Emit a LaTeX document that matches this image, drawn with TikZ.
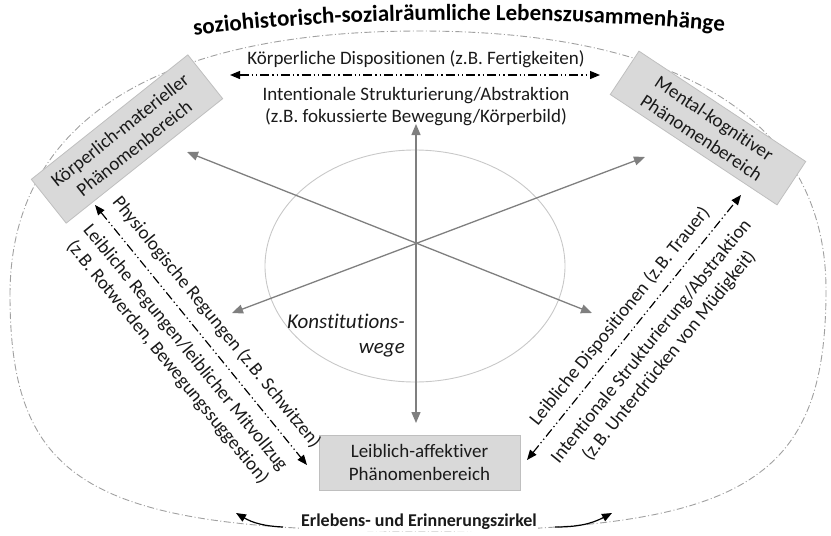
\documentclass[tikz,border=0pt]{standalone}
\usepackage{fontspec}
\setmainfont{Carlito}[Ligatures=NoCommon]
\usetikzlibrary{arrows.meta,decorations.text}
\definecolor{boxfill}{HTML}{D9D9D9}
\definecolor{boxline}{HTML}{BFBFBF}
\definecolor{raygray}{HTML}{7F7F7F}
\definecolor{ellgray}{HTML}{C8C8C8}
\definecolor{boundgray}{HTML}{A0A0A0}
\definecolor{txtcol}{HTML}{1A1A1A}
\begin{document}
\begin{tikzpicture}[x=1pt,y=-1pt,
  txt/.style={font=\fontsize{19}{23}\selectfont, text=txtcol, inner sep=0pt, align=center},
  btxt/.style={font=\bfseries\fontsize{18}{22}\selectfont, text=txtcol, inner sep=1pt},
  itxt/.style={font=\itshape\fontsize{21}{25}\selectfont, text=txtcol, inner sep=0pt, align=right},
  box/.style={draw=boxline, line width=0.8pt, fill=boxfill, minimum width=200pt, minimum height=56pt, inner sep=2pt, align=center, text=txtcol, font=\fontsize{19}{23}\selectfont},
  ray/.style={draw=raygray, line width=1.3pt, {Triangle[length=11pt,width=9pt]}-{Triangle[length=11pt,width=9pt]}},
  dda/.style={draw=black, line width=1.2pt, dash pattern=on 9pt off 3pt on 1.3pt off 3pt on 1.3pt off 3pt, {Triangle[length=10pt,width=8pt]}-{Triangle[length=10pt,width=8pt]}},
  curv/.style={draw=black, line width=1.2pt, -{Triangle[length=10pt,width=8pt]}},
  bound/.style={draw=boundgray, line width=0.9pt, dash pattern=on 7pt off 2.5pt on 1pt off 2.5pt},
  inner/.style={draw=ellgray, line width=0.9pt}
]
\useasboundingbox (0,0) rectangle (831,536);
% outer boundary
\draw[bound] (10,295) .. controls (10,123) and (154,31) .. (420,31)
  .. controls (683,31) and (826,122) .. (826,290)
  .. controls (826,483) and (743,531) .. (420,531)
  .. controls (92,531) and (10,484) .. (10,295) -- cycle;
% title along curve
\path[decorate, decoration={text along path, text align={center},
  text={|\bfseries\fontsize{23}{27}\selectfont|soziohistorisch-sozialräumliche Lebenszusammenhänge}}]
  (176,38) .. controls (330,15) and (570,15) .. (742,33);
% inner ellipse
\draw[inner] (415,266) ellipse [x radius=150, y radius=116];
% rays
\coordinate (c) at (416,243);
\coordinate (ul) at (187,152); \coordinate (lr) at (592,313);
\coordinate (ll) at (232,313); \coordinate (ur) at (645,157);
\coordinate (up) at (416,124); \coordinate (dn) at (416,423);
\draw[ray] (ul) -- (lr);
\draw[ray] (ll) -- (ur);
\draw[ray] (up) -- (dn);
% boxes
\node[box, rotate=38.5] (km) at (127,139) {Körperlich-materieller\\Phänomenbereich};
\node[box, rotate=-33.5, minimum height=52pt] (mk) at (708,128) {Mental-kognitiver\\Phänomenbereich};
\node[box, minimum width=201pt, minimum height=55pt] (la) at (419.5,462.5) {Leiblich-affektiver\\Phänomenbereich};
% top dash-dot arrow
\coordinate (t1) at (230,75); \coordinate (t2) at (600,75);
\draw[dda] (t1) -- (t2);
\node[txt] (ttop) at (416,59) {Körperliche Dispositionen (z.B. Fertigkeiten)};
\node[txt, font=\fontsize{19}{21.5}\selectfont] (tbot) at (416,106.5) {Intentionale Strukturierung/Abstraktion\\(z.B. fokussierte Bewegung/Körperbild)};
% left dash-dot arrow
\coordinate (l1) at (95,205); \coordinate (l2) at (307,465);
\draw[dda] (l1) -- (l2);
\node[txt, rotate=-50.8] (lt) at (216.5,322.4) {Physiologische Regungen (z.B. Schwitzen)};
\node[txt, rotate=-50.8] (lb) at (176.2,355.2) {Leibliche Regungen/leiblicher Mitvollzug\\(z.B. Rotwerden, Bewegungssuggestion)};
% right dash-dot arrow
\coordinate (r1) at (527,460); \coordinate (r2) at (741,195);
\draw[dda] (r1) -- (r2);
\node[txt, rotate=51.1] (rt) at (620,316.2) {Leibliche Dispositionen (z.B. Trauer)};
\node[txt, rotate=51.1] (rb) at (660.5,348.9) {Intentionale Strukturierung/Abstraktion\\(z.B. Unterdrücken von Müdigkeit)};
% center label
\node[itxt, anchor=east] (kw) at (405,335.5) {Konstitutions-\\wege};
% bottom label and arrows
\node[btxt, fill=white] (ez) at (419,522) {Erlebens- und Erinnerungszirkel};
\coordinate (bl1) at (283,527); \coordinate (bl2) at (236,513);
\coordinate (br1) at (555,527); \coordinate (br2) at (612,513);
\draw[curv] (bl1) to[bend left=14] (bl2);
\draw[curv] (br1) to[bend right=14] (br2);
\end{tikzpicture}
\end{document}
